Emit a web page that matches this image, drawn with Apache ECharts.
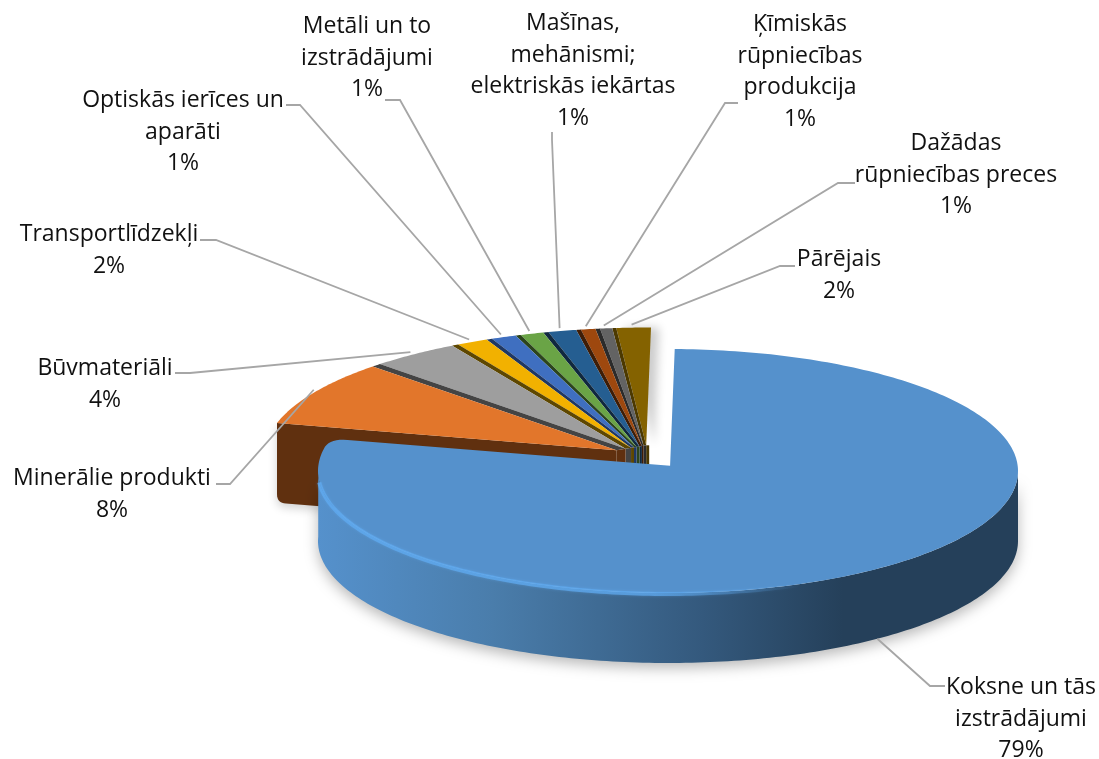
<!DOCTYPE html>
<html><head><meta charset="utf-8">
<style>html,body{margin:0;padding:0;background:#fff}#c{width:1099px;height:759px}</style>
<script src="https://cdn.jsdelivr.net/npm/echarts@6/dist/echarts.min.js"></script>
</head><body><div id="c"></div>
<script>
// ---- data ----
const names = ['Koksne un tās\nizstrādājumi','Minerālie produkti','Būvmateriāli','Transportlīdzekļi','Optiskās ierīces un\naparāti','Metāli un to\nizstrādājumi','Mašīnas,\nmehānismi;\nelektriskās iekārtas','Ķīmiskās\nrūpniecības\nprodukcija','Dažādas\nrūpniecības preces','Pārējais'];
const values = [78.9, 8.2, 4.2, 1.6, 1.3, 1.2, 1.4, 0.8, 0.7, 1.6];
// ---- styles ----
const topColors  = ['#5591cc','#e2762b','#9e9e9e','#f2b100','#3f6fc0','#6aa446','#255e91','#9e480e','#636363','#846200'];
const edgeColors = ['#34597d','#60300f','#444444','#5e4700','#1f3864','#2c451c','#10283f','#3f1d06','#2b2b2b','#4c3900'];
const bandDeg    = [0,0,1.5,1.0,0.9,0.8,0.8,0.7,0.7,0.6];
// ---- layout ----
const woodDisc = {cx:668, cy:471, rx:350, ry:122, rot:1.1, depth:70};
const restDisc = {cx:651, cy:454.5, rx:386, ry:127, rot:0, depth:80};
const hub = {x:648, y:445, explode:36};
const labelCenter = [[1021,687.5],[112,478.5],[105,368.5],[109,234.5],[183,100.5],[367,26.5],[573,23.5],[800,24.5],[956,143.5],[839,259.5]];
const leaderStart = [[[945,686],[930,686]],[[216,484],[230,484]],[[175,373],[190,373]],[[200,240],[216,240]],[[286,105],[300,105]],[[385,100],[400,100]],[[552,132],[552,140]],[[738,103],[725,103]],[[855,183],[838,183]],[[795,266],[780,266]]];
const lineH = 31.5;

const total = values.reduce((a,b)=>a+b,0);
const starts = []; let acc = 0;
values.forEach(v=>{starts.push(acc/total*360); acc+=v;});
const rad = d=>d*Math.PI/180;
const rim = (disc,d)=>[disc.cx+disc.rx*Math.sin(rad(d+disc.rot)), disc.cy-disc.ry*Math.cos(rad(d+disc.rot))];
const arc = (disc,a,b,step=1)=>{const p=[];const n=Math.max(1,Math.ceil(Math.abs(b-a)/step));for(let k=0;k<=n;k++)p.push(rim(disc,a+(b-a)*k/n));return p;};
const apex = i=>{const a0=starts[i], a1=a0+values[i]/total*360, m=(a0+a1)/2, s=Math.sin(rad(m)), c=Math.cos(rad(m));
  return [hub.x+hub.explode*s, hub.y+hub.explode*0.6*Math.max(0,-c)+6*Math.abs(s)];};
const quad=(p0,c,p1,n=8)=>{const o=[];for(let k=0;k<=n;k++){const t=k/n,u=1-t;o.push([u*u*p0[0]+2*u*t*c[0]+t*t*p1[0],u*u*p0[1]+2*u*t*c[1]+t*t*p1[1]]);}return o;};

function renderItem(params, api){
  const i = params.dataIndex, val = api.value(0);
  const a0 = starts[i], a1 = a0+val/total*360, mid=(a0+a1)/2;
  const disc = i===0?woodDisc:restDisc, ap = apex(i);
  const ch = [];
  const poly=(points,style,z2,extra)=>ch.push(Object.assign({type:'polygon',shape:{points},style,z2,silent:true},extra||{}));
  if(i===0){
    // outer wall
    const front = arc(disc,89,271);
    const wall = front.concat(front.slice().reverse().map(p=>[p[0],p[1]+disc.depth]));
    poly(wall,{fill:new echarts.graphic.LinearGradient(318,0,1018,0,[
      {offset:0,color:'#5591cc'},{offset:.25,color:'#4a7dab'},{offset:.55,color:'#34597d'},{offset:.75,color:'#25405a'},{offset:1,color:'#25405a'}],true),
      shadowBlur:14,shadowColor:'rgba(0,0,0,.28)',shadowOffsetY:5},60);
    // top face with a rounded trailing corner
    const corner=rim(disc,a1), p0=rim(disc,a1-4), p1=[corner[0]+(ap[0]-corner[0])*.05,corner[1]+(ap[1]-corner[1])*.05];
    const face=arc(disc,a0,a1-4).concat(quad(p0,corner,p1)).concat([ap]);
    poly(face,{fill:topColors[0]},62);
    // bevel highlight
    ch.push({type:'polyline',shape:{points:arc(disc,264,130,1).map(p=>[p[0],p[1]+1])},silent:true,z2:63,
      style:{fill:null,lineWidth:4,shadowBlur:3,shadowColor:'rgba(100,175,245,.5)',stroke:new echarts.graphic.LinearGradient(318,0,800,0,[
        {offset:0,color:'rgba(95,170,240,.75)'},{offset:.7,color:'rgba(95,170,240,.7)'},{offset:1,color:'rgba(95,170,240,0)'}],true)}});
  } else {
    const base = 10+(values.length-i)*2;
    const band = bandDeg[i];
    if(i===1){
      // exposed outer wall with rounded foot
      const c=rim(disc,a0), d=disc.depth;
      const foot=quad([c[0],c[1]+d-9],[c[0],c[1]+d],[c[0]+9,c[1]+d+0.5]);
      poly([c].concat(foot,[[ap[0],ap[1]+d],ap]),{fill:edgeColors[1],shadowBlur:10,shadowColor:'rgba(0,0,0,.18)',shadowOffsetY:4},base-1);
    }
    // inner column near the hub
    const nx = i<values.length-1?apex(i+1):[ap[0]+3,ap[1]];
    poly([ap,nx,[nx[0],480],[ap[0],480]],{fill:edgeColors[i]},base-1);
    poly([ap].concat(arc(disc,a0+band,a1,.5)),
      Object.assign({fill:topColors[i]}, i===values.length-1?{shadowBlur:10,shadowColor:'rgba(0,0,0,.2)',shadowOffsetX:8}:{}),base);
    // dark side band that also closes the gap to the previous slice's hub
    if(i>1){
      const prev=apex(i-1);
      poly([prev].concat(arc(disc,a0,a0+band,.25),[ap]),{fill:edgeColors[i]},base);
    }
  }
  // leader
  const e = rim(disc,mid);
  const end = i===0?[e[0],e[1]+disc.depth]:[e[0],e[1]-3];
  ch.push({type:'polyline',shape:{points:leaderStart[i].concat([end])},silent:true,z2:80,style:{fill:null,stroke:'#a6a6a6',lineWidth:1.8}});
  // label
  const lc = labelCenter[i];
  ch.push({type:'text',silent:true,z2:90,style:{text:names[i]+'\n'+Math.round(val/total*100)+'%',x:lc[0],y:lc[1]-lineH/2,align:'center',verticalAlign:'top',lineHeight:lineH,fontSize:23,fontFamily:'"Open Sans"',fill:'#111'}});
  return {type:'group',children:ch};
}
const chart = echarts.init(document.getElementById('c'),null,{renderer:'canvas'});
chart.setOption({animation:false,backgroundColor:'#fff',
  series:[{type:'custom',coordinateSystem:'none',renderItem,silent:true,clip:false,data:values.map((v,k)=>({name:names[k],value:v}))}]});
</script></body></html>
